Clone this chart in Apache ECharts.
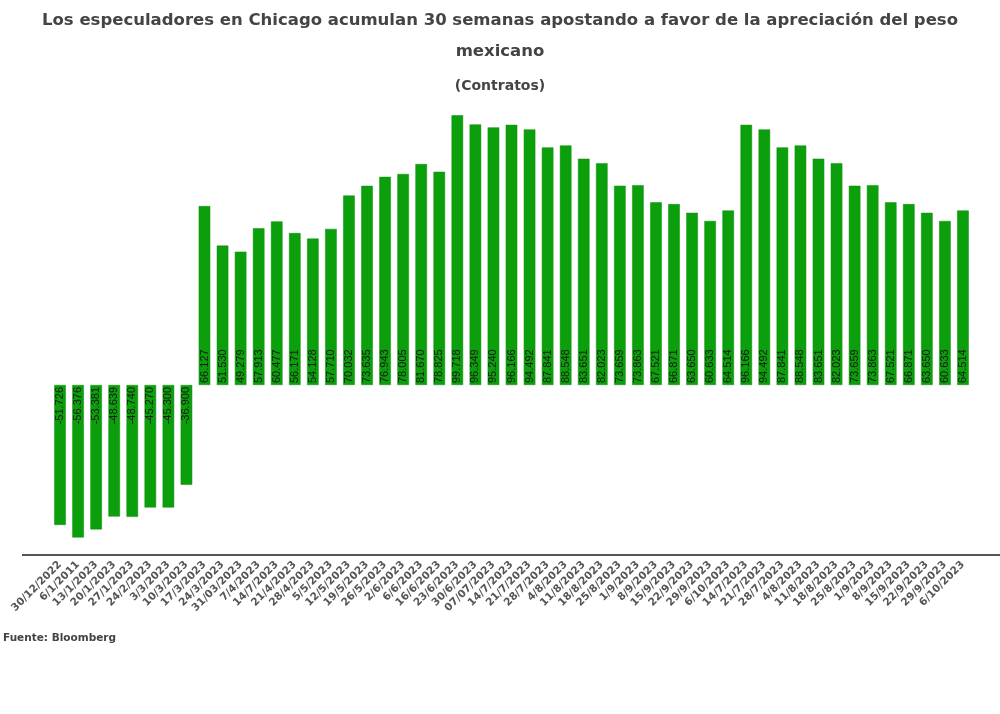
<!DOCTYPE html>
<html>
<head>
<meta charset="utf-8">
<script src="https://cdn.jsdelivr.net/npm/echarts@6/dist/echarts.min.js"></script>
<style>
html,body{margin:0;padding:0;background:#fff;}
#chart{width:1000px;height:714px;}
</style>
</head>
<body>
<div id="chart"></div>
<script>
const categories = [
  '30/12/2022','6/1/2011','13/1/2023','20/1/2023','27/1/2023','24/2/2023','3/3/2023','10/3/2023',
  '17/3/2023','24/3/2023','31/03/2023','7/4/2023','14/7/2023','21/4/2023','28/4/2023','5/5/2023',
  '12/5/2023','19/5/2023','26/5/2023','2/6/2023','6/6/2023','16/6/2023','23/6/2023','30/6/2023',
  '07/07/2023','14/7/2023','21/7/2023','28/7/2023','4/8/2023','11/8/2023','18/8/2023','25/8/2023',
  '1/9/2023','8/9/2023','15/9/2023','22/9/2023','29/9/2023','6/10/2023',
  '14/7/2023','21/7/2023','28/7/2023','4/8/2023','11/8/2023','18/8/2023','25/8/2023',
  '1/9/2023','8/9/2023','15/9/2023','22/9/2023','29/9/2023','6/10/2023'
];
const contratos = [
  -51726,-56376,-53381,-48639,-48740,-45270,-45300,-36900,
  66127,51530,49279,57913,60477,56171,54128,57710,
  70032,73635,76943,78005,81670,78825,99718,96349,
  95240,96166,94492,87841,88548,83651,82023,73659,
  73863,67521,66871,63650,60633,64514,
  96166,94492,87841,88548,83651,82023,73659,
  73863,67521,66871,63650,60633,64514
];
const titleLine1 = 'Los especuladores en Chicago acumulan 30 semanas apostando a favor de la apreciación del peso';
const titleLine2 = 'mexicano';
const subtitleText = '(Contratos)';
const sourceText = 'Fuente: Bloomberg';

function fmt(v){
  const s = Math.abs(v).toString().replace(/\B(?=(\d{3})+(?!\d))/g, '.');
  return (v < 0 ? '-' : '') + s;
}

const titleStyle = {fontFamily: 'DejaVu Sans', fontWeight: 'bold', fontSize: 16.5, color: '#444'};
const chart = echarts.init(document.getElementById('chart'));
chart.setOption({
  backgroundColor: '#ffffff',
  animation: false,
  title: [{
    text: titleLine1, left: 'center', top: 12, padding: 0, textStyle: titleStyle
  },{
    text: titleLine2, left: 'center', top: 43, padding: 0, textStyle: titleStyle
  },{
    text: subtitleText, left: 'center', top: 79, padding: 0,
    textStyle: {fontFamily: 'DejaVu Sans', fontWeight: 'bold', fontSize: 14, color: '#444'}
  },{
    text: sourceText, left: 3, top: 633, padding: 0,
    textStyle: {fontFamily: 'DejaVu Sans', fontWeight: 'bold', fontSize: 10.5, color: '#444'}
  }],
  grid: {left: 51, right: 28, top: 114.5, bottom: 159, containLabel: false},
  xAxis: {
    type: 'category',
    data: categories,
    axisLine: {show: false},
    axisTick: {show: false},
    axisLabel: {
      interval: 0, rotate: 45, margin: 8,
      fontFamily: 'DejaVu Sans', fontWeight: 'bold', fontSize: 10.5, color: '#555'
    }
  },
  yAxis: {
    type: 'value', min: -62850, max: 100000,
    show: false, splitLine: {show: false}
  },
  graphic: [{
    type: 'line',
    shape: {x1: 22, y1: 555, x2: 1000, y2: 555},
    style: {stroke: '#555', lineWidth: 2}
  }],
  series: [{
    type: 'bar',
    barWidth: '64%',
    itemStyle: {color: '#0c9f0c', borderColor: '#0a8f0a', borderWidth: 0.5},
    label: {
      show: true, rotate: 90, distance: 2,
      verticalAlign: 'middle',
      fontFamily: 'Liberation Sans', fontSize: 11, color: '#1a1a1a',
      formatter: p => fmt(p.value)
    },
    data: contratos.map(v => ({
      value: v,
      label: v < 0 ? {position: 'insideTop', align: 'right'} : {position: 'insideBottom', align: 'left'}
    }))
  }]
});
</script>
</body>
</html>
